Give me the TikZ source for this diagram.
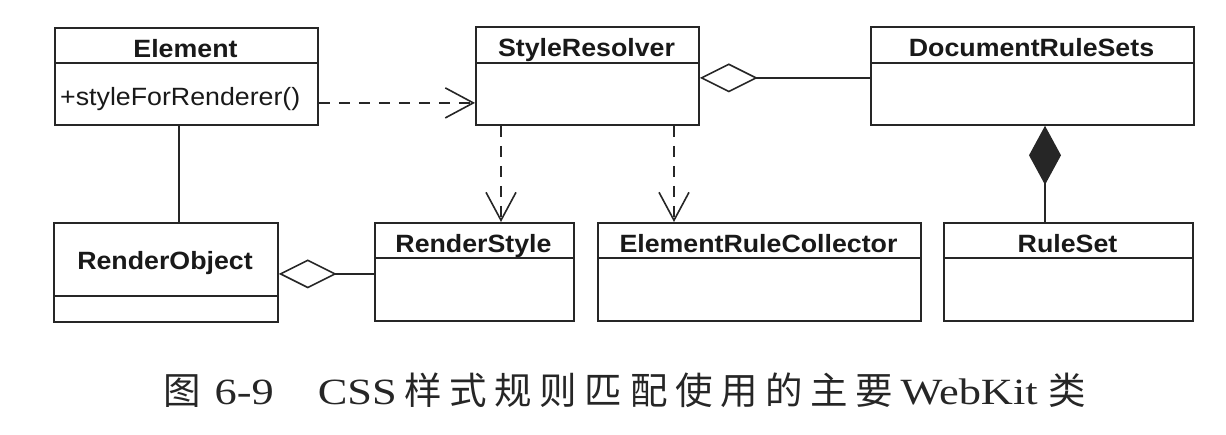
\documentclass[tikz,border=0pt]{standalone}
\usepackage{fontspec}
\setmainfont{Liberation Serif}
\newfontfamily\umlfont[FakeStretch=1.07]{Liberation Sans}
\newfontfamily\capfont[FakeStretch=1.2]{Liberation Serif}
\newfontfamily\cjk{Noto Sans CJK SC}
\newcommand{\cjkgap}{\hspace{0pt plus 1fill}}
\usetikzlibrary{arrows.meta,calc}
\tikzset{
  classbox/.style={draw=black!85, line width=1.8pt, rectangle, inner sep=0pt, anchor=north west},
  divider/.style={draw=black!85, line width=1.6pt},
  title/.style={font=\umlfont\bfseries\fontsize{25}{30}\selectfont, text=black!90, inner sep=0pt, anchor=base},
  member/.style={font=\umlfont\fontsize{25}{30}\selectfont, text=black!90, inner sep=0pt, anchor=base west},
  link/.style={draw=black!85, line width=1.6pt},
  dep/.style={link, dash pattern=on 11pt off 9pt, -{Straight Barb[length=28pt,width=30pt,line width=1.6pt]}},
  agg/.style={link, {Diamond[open,length=58pt,width=29pt,line width=1.6pt]}-},
  comp/.style={link, {Diamond[length=59pt,width=32pt]}-},
}
\begin{document}
\begin{tikzpicture}[x=1pt,y=-1pt]
\useasboundingbox (0,0) rectangle (1226,434);
% boxes
\node[classbox, minimum width=263pt, minimum height=97pt] (el) at (54,27) {};
\node[classbox, minimum width=223pt, minimum height=98pt] (sr) at (475,26) {};
\node[classbox, minimum width=323pt, minimum height=98pt] (drs) at (870,26) {};
\node[classbox, minimum width=224pt, minimum height=99pt] (ro) at (53,222) {};
\node[classbox, minimum width=199pt, minimum height=98pt] (rs) at (374,222) {};
\node[classbox, minimum width=323pt, minimum height=98pt] (erc) at (597,222) {};
\node[classbox, minimum width=249pt, minimum height=98pt] (rules) at (943,222) {};
% dividers
\draw[divider] (54,63) -- (317,63);
\draw[divider] (475,63) -- (698,63);
\draw[divider] (870,63) -- (1193,63);
\draw[divider] (53,296) -- (277,296);
\draw[divider] (374,258) -- (573,258);
\draw[divider] (597,258) -- (920,258);
\draw[divider] (943,258) -- (1192,258);
% titles
\node[title] (elt) at (185.5,57) {Element};
\node[member] (elm) at (60,105) {+styleForRenderer()};
\node[title] (srt) at (586.5,56) {StyleResolver};
\node[title] (drst) at (1031.5,56.5) {DocumentRuleSets};
\node[title] (rot) at (165,269) {RenderObject};
\node[title] (rst) at (473.5,252) {RenderStyle};
\node[title] (erct) at (758.5,252) {ElementRuleCollector};
\node[title] (rulest) at (1067.5,252) {RuleSet};
% connectors
\draw[link] ([xshift=125pt]el.south west) coordinate (a1) -- (a1 |- ro.north);
\draw[dep] ([yshift=-26.5pt]el.east) -- ([yshift=-26.5pt]el.east -| sr.west);
\draw[dep] ([xshift=26pt]sr.south west) coordinate (a2) -- (a2 |- rs.north);
\draw[dep] ([xshift=199pt]sr.south west) coordinate (a3) -- (a3 |- erc.north);
\draw[agg] ([yshift=-2pt]sr.east) -- ([yshift=-2pt]sr.east -| drs.west);
\draw[comp] ([xshift=175pt]drs.south west) coordinate (a4) -- (a4 |- rules.north);
\draw[agg] ([yshift=-1.5pt]ro.east) -- ([yshift=-1.5pt]ro.east -| rs.west);
% caption
\node[anchor=base west, inner sep=0pt, font=\capfont\fontsize{37}{42}\selectfont, text=black!85] (cap) at (163,404)
  {\makebox[923pt][s]{{\cjk\fontsize{37.5}{42}\selectfont 图}\hspace{14pt}6-9\hspace{44pt}CSS\hspace{8pt}{\cjk\fontsize{37.5}{42}\selectfont 样\cjkgap 式\cjkgap 规\cjkgap 则\cjkgap 匹\cjkgap 配\cjkgap 使\cjkgap 用\cjkgap 的\cjkgap 主\cjkgap 要}\hspace{8pt}WebKit\hspace{11pt}{\cjk\fontsize{37.5}{42}\selectfont 类}}};
\end{tikzpicture}
\end{document}
